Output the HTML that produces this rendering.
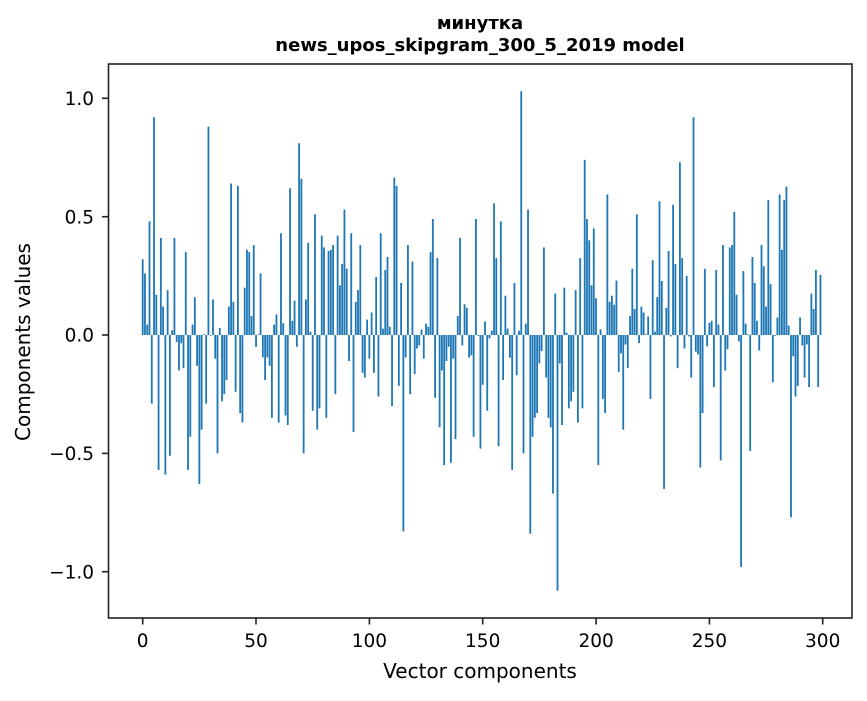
<!DOCTYPE html>
<html><head><meta charset="utf-8"><style>
html,body{margin:0;padding:0;background:#fff;}
svg text{font-family:"DejaVu Sans","Liberation Sans",sans-serif;fill:#000;}
</style></head><body>
<svg id="s" width="867" height="696" viewBox="0 0 867 696" xmlns="http://www.w3.org/2000/svg">
<rect width="867" height="696" fill="#fff"/>
<g id="bars" fill="#1f77b4"></g>
<rect x="108.5" y="64" width="743.5" height="554" fill="none" stroke="#222" stroke-width="1.6"/>
<g stroke="#222" stroke-width="1.6">
<line x1="108.5" x2="102" y1="98.3" y2="98.3"/>
<line x1="108.5" x2="102" y1="216.7" y2="216.7"/>
<line x1="108.5" x2="102" y1="335" y2="335"/>
<line x1="108.5" x2="102" y1="453.4" y2="453.4"/>
<line x1="108.5" x2="102" y1="571.7" y2="571.7"/>
<line y1="618" y2="624.5" x1="142.7" x2="142.7"/>
<line y1="618" y2="624.5" x1="256.0" x2="256.0"/>
<line y1="618" y2="624.5" x1="369.4" x2="369.4"/>
<line y1="618" y2="624.5" x1="482.7" x2="482.7"/>
<line y1="618" y2="624.5" x1="596.1" x2="596.1"/>
<line y1="618" y2="624.5" x1="709.4" x2="709.4"/>
<line y1="618" y2="624.5" x1="822.7" x2="822.7"/>
</g>
<g font-size="18.5" text-anchor="end">
<text x="94" y="105">1.0</text>
<text x="94" y="223.4">0.5</text>
<text x="94" y="341.7">0.0</text>
<text x="94" y="460.1">−0.5</text>
<text x="94" y="578.4">−1.0</text>
</g>
<g font-size="18.5" text-anchor="middle">
<text x="142.7" y="647">0</text>
<text x="256.0" y="647">50</text>
<text x="369.4" y="647">100</text>
<text x="482.7" y="647">150</text>
<text x="596.1" y="647">200</text>
<text x="709.4" y="647">250</text>
<text x="822.7" y="647">300</text>
</g>
<text x="480" y="678" font-size="20" text-anchor="middle">Vector components</text>
<text transform="translate(30,342) rotate(-90)" font-size="20" text-anchor="middle">Components values</text>
<text x="480" y="29" font-size="18" font-weight="bold" text-anchor="middle">минутка</text>
<text x="480" y="51" font-size="18" font-weight="bold" text-anchor="middle">news_upos_skipgram_300_5_2019 model</text>
</svg>
<script>
var v=[0.32,0.26,0.044,0.48,-0.29,0.92,0.17,-0.57,0.41,0.12,-0.59,0.19,-0.51,0.02,0.41,-0.03,-0.15,-0.035,-0.14,0.35,
-0.57,-0.43,0.044,0.16,-0.13,-0.63,-0.40,0.003,-0.29,0.88,-0.003,0.15,-0.10,-0.5,0.03,-0.28,-0.25,-0.19,0.12,0.64,
0.14,-0.24,0.63,-0.33,-0.37,0.2,0.36,0.35,0.08,0.38,-0.05,0.003,0.26,-0.095,-0.19,-0.095,-0.13,-0.35,0.044,0.087,
-0.37,0.43,0.05,-0.34,-0.38,0.62,0.06,0.145,-0.05,0.81,0.66,-0.5,0.15,0.39,0.014,-0.32,0.51,-0.4,-0.31,0.42,
0.37,-0.35,0.355,0.36,0.38,-0.25,0.42,0.21,0.3,0.53,0.28,-0.11,0.43,-0.41,0.14,0.19,0.38,-0.16,-0.18,0.065,
-0.1,0.095,-0.16,0.245,-0.26,0.43,0.027,0.275,0.33,0.035,-0.3,0.665,0.63,-0.215,0.22,-0.83,-0.095,0.38,-0.25,0.31,
-0.165,-0.057,-0.044,0.023,-0.1,0.048,0.035,0.35,0.49,-0.265,0.325,-0.39,-0.15,-0.55,-0.11,-0.05,-0.54,-0.1,-0.44,0.08,
0.41,-0.044,0.13,0.115,-0.095,-0.086,-0.43,0.49,-0.003,-0.48,-0.21,0.057,-0.32,-0.014,0.018,0.556,0.325,-0.47,0.48,-0.19,
0.166,0.027,-0.096,-0.57,0.22,-0.17,0.018,1.03,-0.5,0.048,0.53,-0.84,-0.43,-0.35,-0.33,-0.12,-0.068,0.37,-0.18,-0.35,
-0.39,-0.67,0.175,-1.08,-0.12,-0.38,0.2,0.01,-0.31,-0.28,-0.24,0.19,-0.37,0.325,-0.31,0.74,0.49,0.4,0.21,0.45,
0.155,-0.55,0.024,-0.27,-0.33,0.594,0.14,0.166,0.128,0.23,-0.156,-0.078,-0.4,-0.04,-0.14,0.08,0.28,0.11,0.51,-0.034,
0.12,0.095,0.003,0.078,-0.27,0.316,0.014,0.16,0.565,0.228,-0.65,0.115,0.355,-0.006,0.55,0.3,-0.14,0.73,0.325,-0.057,
0.25,-0.006,-0.18,0.92,-0.07,-0.082,-0.56,-0.33,0.28,-0.048,0.052,0.06,-0.22,0.275,0.044,-0.53,0.38,-0.15,-0.06,0.37,
0.38,0.52,0.17,-0.027,-0.98,0.27,0.048,0.003,-0.49,0.33,0.22,0.06,-0.065,0.38,0.29,0.12,0.57,0.215,-0.2,-0.003,
0.074,0.594,0.36,0.57,0.627,0.04,-0.77,-0.09,-0.26,-0.215,0.074,-0.044,-0.18,-0.04,-0.22,0.175,0.11,0.275,-0.22,0.254];
var g=document.getElementById('bars'),h='';
var x0=142.7,dx=2.2667,y0=335,sy=236.7,w=dx*0.8;
for(var i=0;i<v.length;i++){
 var x=x0+i*dx-w/2,val=v[i],y=val>=0?y0-val*sy:y0,hh=Math.max(Math.abs(val)*sy,0.3);
 h+='<rect x="'+x.toFixed(2)+'" y="'+y.toFixed(2)+'" width="'+w.toFixed(2)+'" height="'+hh.toFixed(2)+'"/>';
}
g.innerHTML=h;
</script>
</body></html>
